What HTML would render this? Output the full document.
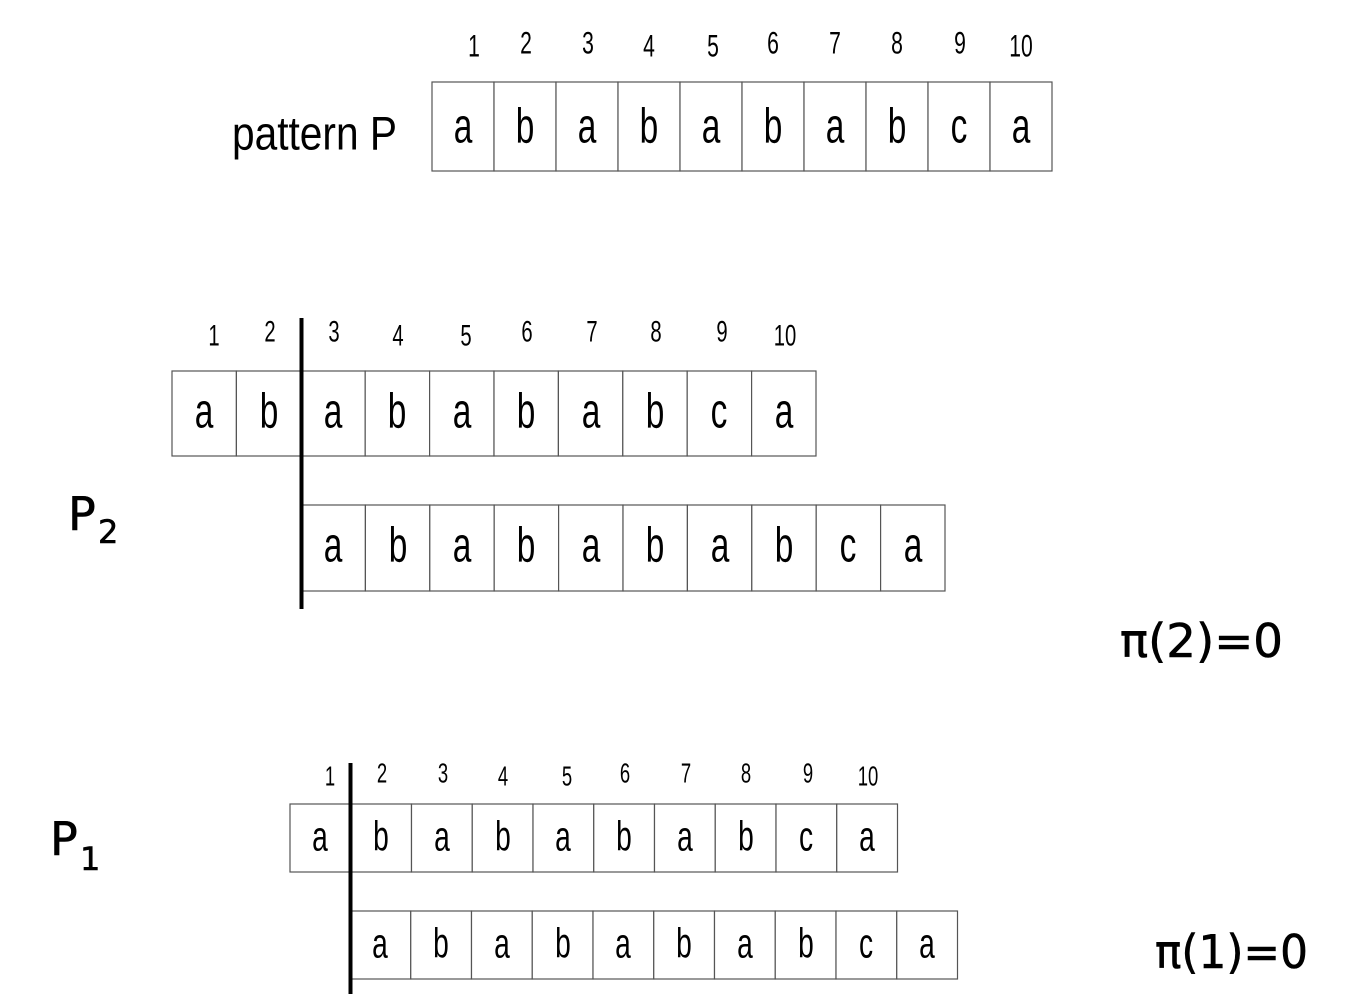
<!DOCTYPE html>
<html><head><meta charset="utf-8"><style>
html,body{margin:0;padding:0;background:#fff;}
svg{display:block;}
.n{font-family:"Liberation Sans",sans-serif;fill:#000;text-anchor:middle;}
.n text,text.n{transform-box:fill-box;transform-origin:50% 85%;transform:scale(0.88,1.3);}
.c{fill:#fff;stroke:#555;stroke-width:1.2;}
.h{font-family:"DejaVu Sans",sans-serif;fill:#000;stroke:#000;stroke-width:0.6;}
</style></head><body>
<svg width="1359" height="1000" viewBox="0 0 1359 1000" xmlns="http://www.w3.org/2000/svg">
<text x="232" y="150" class="n" style="text-anchor:start;font-size:36px;transform:scale(1,1.3)" textLength="165" lengthAdjust="spacingAndGlyphs">pattern P</text>
<g class="n" style="font-size:24px">
<text x="474" y="57">1</text><text x="526" y="54">2</text><text x="588" y="54">3</text><text x="649" y="57">4</text><text x="713" y="57">5</text><text x="773" y="54">6</text><text x="835" y="54">7</text><text x="897" y="54">8</text><text x="960" y="54">9</text><text x="1021" y="57">10</text>
</g>
<g>
<rect class="c" x="432" y="82" width="62" height="89"/><rect class="c" x="494" y="82" width="62" height="89"/><rect class="c" x="556" y="82" width="62" height="89"/><rect class="c" x="618" y="82" width="62" height="89"/><rect class="c" x="680" y="82" width="62" height="89"/><rect class="c" x="742" y="82" width="62" height="89"/><rect class="c" x="804" y="82" width="62" height="89"/><rect class="c" x="866" y="82" width="62" height="89"/><rect class="c" x="928" y="82" width="62" height="89"/><rect class="c" x="990" y="82" width="62" height="89"/>
</g>
<g class="n" style="font-size:38px">
<text x="463" y="143">a</text><text x="525" y="143">b</text><text x="587" y="143">a</text><text x="649" y="143">b</text><text x="711" y="143">a</text><text x="773" y="143">b</text><text x="835" y="143">a</text><text x="897" y="143">b</text><text x="959" y="143">c</text><text x="1021" y="143">a</text>
</g>

<g class="n" style="font-size:23px">
<text x="214" y="346">1</text><text x="270" y="342">2</text><text x="334" y="342">3</text><text x="398" y="346">4</text><text x="466" y="346">5</text><text x="527" y="342">6</text><text x="592" y="342">7</text><text x="656" y="342">8</text><text x="722" y="342">9</text><text x="785" y="346">10</text>
</g>
<g>
<rect class="c" x="172" y="371" width="64.4" height="85"/><rect class="c" x="236.4" y="371" width="64.4" height="85"/><rect class="c" x="300.8" y="371" width="64.4" height="85"/><rect class="c" x="365.2" y="371" width="64.4" height="85"/><rect class="c" x="429.6" y="371" width="64.4" height="85"/><rect class="c" x="494" y="371" width="64.4" height="85"/><rect class="c" x="558.4" y="371" width="64.4" height="85"/><rect class="c" x="622.8" y="371" width="64.4" height="85"/><rect class="c" x="687.2" y="371" width="64.4" height="85"/><rect class="c" x="751.6" y="371" width="64.4" height="85"/>
<rect class="c" x="301" y="505" width="64.4" height="86"/><rect class="c" x="365.4" y="505" width="64.4" height="86"/><rect class="c" x="429.8" y="505" width="64.4" height="86"/><rect class="c" x="494.2" y="505" width="64.4" height="86"/><rect class="c" x="558.6" y="505" width="64.4" height="86"/><rect class="c" x="623" y="505" width="64.4" height="86"/><rect class="c" x="687.4" y="505" width="64.4" height="86"/><rect class="c" x="751.8" y="505" width="64.4" height="86"/><rect class="c" x="816.2" y="505" width="64.4" height="86"/><rect class="c" x="880.6" y="505" width="64.4" height="86"/>
</g>
<g class="n" style="font-size:38px">
<text x="204" y="428">a</text><text x="269" y="428">b</text><text x="333" y="428">a</text><text x="397" y="428">b</text><text x="462" y="428">a</text><text x="526" y="428">b</text><text x="591" y="428">a</text><text x="655" y="428">b</text><text x="719" y="428">c</text><text x="784" y="428">a</text>
<text x="333" y="562">a</text><text x="398" y="562">b</text><text x="462" y="562">a</text><text x="526" y="562">b</text><text x="591" y="562">a</text><text x="655" y="562">b</text><text x="720" y="562">a</text><text x="784" y="562">b</text><text x="848" y="562">c</text><text x="913" y="562">a</text>
</g>
<rect x="299.5" y="318" width="4" height="291" fill="#000"/>
<text class="h" x="68" y="530" style="font-size:46px">P</text>
<text class="h" x="98" y="543" style="font-size:32px">2</text>
<text class="h" x="1120" y="657" style="font-size:46px" textLength="163" lengthAdjust="spacingAndGlyphs">π(2)=0</text>

<g class="n" style="font-size:21px">
<text x="330" y="786">1</text><text x="382" y="783">2</text><text x="443" y="783">3</text><text x="503" y="786">4</text><text x="567" y="786">5</text><text x="625" y="783">6</text><text x="686" y="783">7</text><text x="746" y="783">8</text><text x="808" y="783">9</text><text x="868" y="786">10</text>
</g>
<g>
<rect class="c" x="290" y="804" width="60.75" height="68"/><rect class="c" x="350.75" y="804" width="60.75" height="68"/><rect class="c" x="411.5" y="804" width="60.75" height="68"/><rect class="c" x="472.25" y="804" width="60.75" height="68"/><rect class="c" x="533" y="804" width="60.75" height="68"/><rect class="c" x="593.75" y="804" width="60.75" height="68"/><rect class="c" x="654.5" y="804" width="60.75" height="68"/><rect class="c" x="715.25" y="804" width="60.75" height="68"/><rect class="c" x="776" y="804" width="60.75" height="68"/><rect class="c" x="836.75" y="804" width="60.75" height="68"/>
<rect class="c" x="350" y="911" width="60.75" height="68"/><rect class="c" x="410.75" y="911" width="60.75" height="68"/><rect class="c" x="471.5" y="911" width="60.75" height="68"/><rect class="c" x="532.25" y="911" width="60.75" height="68"/><rect class="c" x="593" y="911" width="60.75" height="68"/><rect class="c" x="653.75" y="911" width="60.75" height="68"/><rect class="c" x="714.5" y="911" width="60.75" height="68"/><rect class="c" x="775.25" y="911" width="60.75" height="68"/><rect class="c" x="836" y="911" width="60.75" height="68"/><rect class="c" x="896.75" y="911" width="60.75" height="68"/>
</g>
<g class="n" style="font-size:32px">
<text x="320" y="851">a</text><text x="381" y="851">b</text><text x="442" y="851">a</text><text x="503" y="851">b</text><text x="563" y="851">a</text><text x="624" y="851">b</text><text x="685" y="851">a</text><text x="746" y="851">b</text><text x="806" y="851">c</text><text x="867" y="851">a</text>
<text x="380" y="958">a</text><text x="441" y="958">b</text><text x="502" y="958">a</text><text x="563" y="958">b</text><text x="623" y="958">a</text><text x="684" y="958">b</text><text x="745" y="958">a</text><text x="806" y="958">b</text><text x="866" y="958">c</text><text x="927" y="958">a</text>
</g>
<rect x="348.5" y="763" width="4" height="231" fill="#000"/>
<text class="h" x="50" y="855" style="font-size:46px">P</text>
<text class="h" x="80" y="870" style="font-size:32px">1</text>
<text class="h" x="1155" y="968" style="font-size:46px" textLength="153" lengthAdjust="spacingAndGlyphs">π(1)=0</text>
</svg>
</body></html>
